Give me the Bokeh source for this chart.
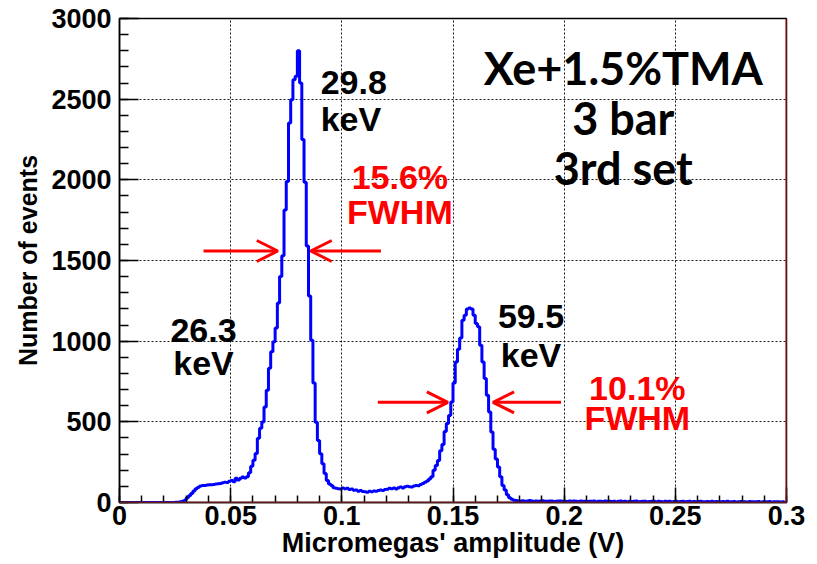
from bokeh.plotting import figure
from bokeh.models import Range1d, FixedTicker, Label, Arrow, OpenHead, Span
from bokeh.embed import file_html
from bokeh.resources import INLINE

# Histogram: 300 bins of 0.001 V from 0 to 0.3 V
bin_width = 0.001
counts = [
    0, 0, 0, 0, 0, 0, 0, 0, 0, 0,
    0, 0, 0, 0, 0, 0, 0, 0, 0, 0,
    0, 0, 0, 0, 0, 1, 2, 4, 8, 14,
    30, 42, 56, 72, 85, 95, 102, 105, 106, 108,
    110, 110, 112, 114, 116, 118, 122, 126, 124, 132,
    137, 128, 150, 140, 150, 158, 152, 160, 185, 225,
    262, 304, 398, 460, 499, 592, 696, 832, 934, 996,
    1081, 1236, 1401, 1530, 1813, 1989, 2352, 2497, 2621, 2642,
    2800, 2600, 2250, 1985, 1590, 1280, 1006, 740, 497, 385,
    302, 240, 180, 137, 115, 105, 91, 88, 86, 84,
    90, 85, 88, 80, 84, 76, 78, 70, 74, 68,
    66, 64, 70, 66, 72, 70, 74, 78, 74, 80,
    82, 88, 86, 90, 84, 92, 96, 90, 98, 100,
    98, 96, 102, 106, 104, 112, 118, 126, 134, 145,
    160, 200, 230, 260, 320, 360, 440, 489, 540, 623,
    740, 871, 950, 1020, 1130, 1160, 1200, 1205, 1200, 1160,
    1110, 1089, 975, 871, 768, 665, 561, 437, 330, 270,
    220, 160, 105, 78, 48, 30, 20, 14, 12, 10,
    9, 11, 8, 10, 12, 9, 7, 10, 8, 9,
    11, 7, 8, 10, 9, 6, 8, 9, 10, 7,
    8, 6, 9, 7, 10, 8, 6, 9, 7, 8,
    6, 8, 7, 9, 5, 8, 7, 6, 9, 7,
    8, 6, 7, 5, 8, 9, 6, 7, 5, 8,
    6, 7, 9, 5, 6, 8, 7, 5, 6, 7,
    8, 5, 7, 6, 4, 7, 6, 8, 5, 6,
    7, 5, 6, 8, 4, 6, 7, 5, 6, 4,
    6, 7, 5, 4, 6, 5, 7, 4, 6, 5,
    4, 6, 5, 7, 4, 5, 6, 3, 5, 6,
    4, 5, 3, 6, 5, 4, 5, 6, 3, 4,
    5, 4, 6, 3, 4, 5, 4, 3, 5, 0,
]

x_ticks = [0, 0.05, 0.1, 0.15, 0.2, 0.25, 0.3]
x_tick_labels = ["0", "0.05", "0.1", "0.15", "0.2", "0.25", "0.3"]
x_minor = [round(i * 0.01, 2) for i in range(31)]
y_ticks = [0, 500, 1000, 1500, 2000, 2500, 3000]
y_tick_labels = ["0", "500", "1000", "1500", "2000", "2500", "3000"]
y_minor = [i * 100 for i in range(31)]
x_title = "Micromegas' amplitude (V)"
y_title = "Number of events"

edges = [i * bin_width for i in range(len(counts) + 1)]
step_y = counts + [counts[-1]]

FONT = "Liberation Sans"

p = figure(width=817, height=564, x_range=Range1d(0, 0.3), y_range=Range1d(0, 3000),
           output_backend="svg", toolbar_location=None,
           min_border_left=119, min_border_right=31, min_border_top=18, min_border_bottom=62)
p.background_fill_color = "white"
p.border_fill_color = "white"
p.outline_line_color = "black"
p.outline_line_width = 1.5

# axes
for ax, ticks, minor, labels in ((p.xaxis[0], x_ticks, x_minor, x_tick_labels),
                                 (p.yaxis[0], y_ticks, y_minor, y_tick_labels)):
    ax.ticker = FixedTicker(ticks=ticks, minor_ticks=minor)
    ax.major_label_overrides = {t: l for t, l in zip(ticks, labels)}
    ax.major_label_text_font = FONT
    ax.major_label_text_font_style = "bold"
    ax.major_label_text_font_size = "27px"
    ax.major_label_text_color = "black"
    ax.axis_label_text_font = FONT
    ax.axis_label_text_font_style = "bold"
    ax.axis_label_text_color = "black"
    ax.axis_line_color = "black"
    ax.axis_line_width = 1.5
    ax.major_tick_line_color = "black"
    ax.minor_tick_line_color = "black"
    ax.major_tick_line_width = 1.5
    ax.minor_tick_line_width = 1.5
    ax.major_tick_out = 0
    ax.minor_tick_out = 0

p.xaxis.axis_label = x_title
p.yaxis.axis_label = y_title
p.xaxis.axis_label_text_font_size = "27px"
p.yaxis.axis_label_text_font_size = "25px"
p.xaxis.major_tick_in = 15
p.xaxis.minor_tick_in = 7
p.yaxis.major_tick_in = 19
p.yaxis.minor_tick_in = 9
p.xaxis.major_label_standoff = 3
p.yaxis.major_label_standoff = 8
p.xaxis.axis_label_standoff = 0
p.yaxis.axis_label_standoff = 6

p.xgrid.ticker = FixedTicker(ticks=x_ticks)
p.ygrid.ticker = FixedTicker(ticks=y_ticks)
for g in (p.xgrid[0], p.ygrid[0]):
    g.grid_line_color = "black"
    g.grid_line_dash = "2 2"
    g.grid_line_width = 1
    g.grid_line_alpha = 0.9

# red frame lines (bottom, right)
p.add_layout(Span(location=0, dimension="width", line_color="#d03030", line_width=1.5))
p.add_layout(Span(location=0.3, dimension="height", line_color="#c02020", line_width=2))

# histogram
p.step(x=edges, y=step_y, mode="after", line_color="#0000ff", line_width=3)

def lab(x, y, text, size="34px", color="black", align="left", font=FONT):
    p.add_layout(Label(x=x, y=y, text=text, text_font=font, text_font_style="bold",
                       text_font_size=size, text_color=color, text_align=align,
                       text_baseline="alphabetic"))

lab(0.0905, 2602, "29.8")
lab(0.0905, 2379, "keV")
lab(0.1261, 2020, "15.6%", color="red", align="center")
lab(0.1261, 1803, "FWHM", color="red", align="center")
lab(0.0378, 1068, "26.3", align="center")
lab(0.0378, 863, "keV", align="center")
lab(0.1851, 1151, "59.5", align="center")
lab(0.1851, 913, "keV", align="center")
lab(0.2329, 708, "10.1%", color="red", align="center")
lab(0.2329, 522, "FWHM", color="red", align="center")
lab(0.2266, 2696, "Xe+1.5%TMA", size="45px", align="center", font="Lato")
lab(0.2266, 2385, "3 bar", size="45px", align="center", font="Lato")
lab(0.2266, 2074, "3rd set", size="45px", align="center", font="Lato")

for xs, xe, y in ((0.0378, 0.0712, 1559), (0.1176, 0.0860, 1559),
                  (0.1162, 0.1477, 621), (0.1986, 0.1680, 621)):
    p.add_layout(Arrow(end=OpenHead(size=21, line_color="red", line_width=3),
                       x_start=xs, y_start=y, x_end=xe, y_end=y,
                       line_color="red", line_width=3))

open("out.html", "w").write(file_html(p, INLINE))
